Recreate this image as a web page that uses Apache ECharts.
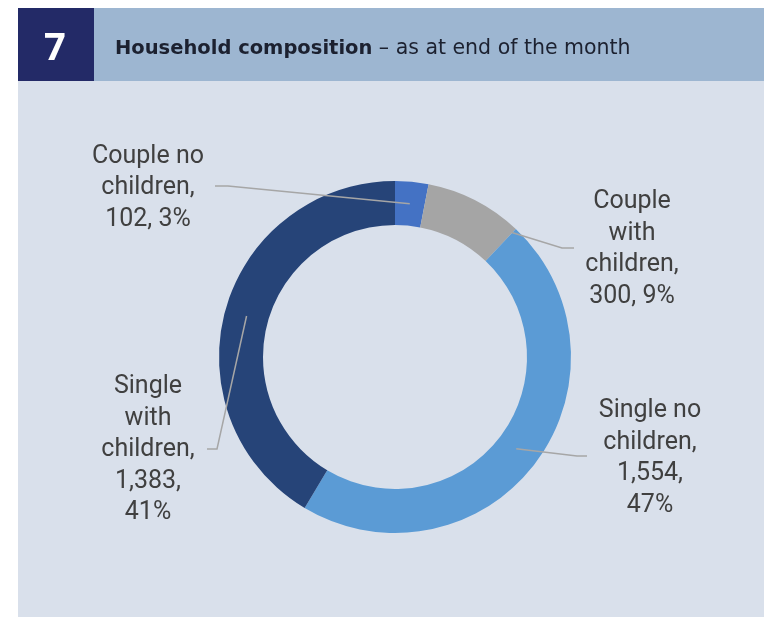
<!DOCTYPE html>
<html>
<head>
<meta charset="utf-8">
<script src="https://cdn.jsdelivr.net/npm/echarts@6/dist/echarts.min.js"></script>
<style>
  html, body { margin: 0; padding: 0; background: #ffffff; }
  #chart { width: 770px; height: 617px; }
</style>
</head>
<body>
<div id="chart"></div>
<script>
// data
var categories = ['Couple no\nchildren', 'Couple\nwith\nchildren', 'Single no\nchildren', 'Single\nwith\nchildren'];
var values = [102, 300, 1554, 1383];
var valueSep = [', ', ', ', ',\n', ',\n'];   // how value and percent are split in each label
var colors = ['#4472c4', '#a5a5a5', '#5b9bd5', '#264478'];

// layout of the labels and their leader lines
var cx = 395, cy = 357, rIn = 132, rOut = 176;
var labelPos = [[148, 188], [632, 249], [650, 458], [148, 450]];
var lineBends = [
  [[228, 186], [215, 186]],
  [[562, 248], [574, 248]],
  [[577, 456], [587, 456]],
  [[217, 449], [207, 449]]
];
var lineStartFrac = [0.5, 0.98, 0.5, 0.5]; // where in the slice the line starts
var lineStartR = [154, 170, 152, 154];

var total = values.reduce(function (a, b) { return a + b; }, 0);

// start point of a leader line, from the slice angles
function lineStart(i) {
  var before = 0;
  for (var k = 0; k < i; k++) before += values[k];
  var a = (before + values[i] * lineStartFrac[i]) / total * Math.PI * 2;
  return [cx + lineStartR[i] * Math.sin(a), cy - lineStartR[i] * Math.cos(a)];
}

var chart = echarts.init(document.getElementById('chart'));

var pieData = categories.map(function (c, i) {
  return { name: c, value: values[i], itemStyle: { color: colors[i] } };
});

var option = {
  animation: false,
  backgroundColor: '#ffffff',
  graphic: [
    { type: 'rect', shape: { x: 18, y: 8, width: 746, height: 609 }, style: { fill: '#d9e0eb' }, z: -10 },
    { type: 'rect', shape: { x: 18, y: 8, width: 746, height: 73 }, style: { fill: '#9db6d1' }, z: -9 },
    { type: 'rect', shape: { x: 18, y: 8, width: 76, height: 73 }, style: { fill: '#232a67' }, z: -8 },
    {
      type: 'text', left: 44, top: 30, z: 5,
      style: { text: '7', fill: '#ffffff', font: 'bold 38px "Open Sans", Roboto, sans-serif' }
    }
  ],
  title: {
    text: '{b|Household composition} – as at end of the month',
    left: 110,
    top: 33,
    textStyle: {
      fontFamily: '"DejaVu Sans", sans-serif',
      fontSize: 20.5,
      fontWeight: 'normal',
      color: '#1c2130',
      rich: {
        b: { fontFamily: '"DejaVu Sans", sans-serif', fontSize: 19.5, fontWeight: 'bold', color: '#1c2130' }
      }
    }
  },
  series: [
    {
      // the ring itself
      type: 'pie',
      center: [cx, cy],
      radius: [rIn, rOut],
      startAngle: 90,
      clockwise: true,
      silent: true,
      itemStyle: { borderWidth: 0 },
      label: { show: false },
      labelLine: { show: false },
      data: pieData
    },
    {
      // same slices, transparent, drawn on top so the leader lines sit above the ring
      type: 'pie',
      z: 5,
      center: [cx, cy],
      radius: [rIn, rOut],
      startAngle: 90,
      clockwise: true,
      silent: true,
      avoidLabelOverlap: false,
      itemStyle: { color: 'rgba(0,0,0,0)', borderWidth: 0 },
      data: categories.map(function (c, i) { return { name: c, value: values[i] }; }),
      label: {
        show: true,
        position: 'outside',
        fontFamily: 'Roboto, sans-serif',
        fontSize: 25,
        lineHeight: 31.5,
        color: '#404040',
        align: 'center',
        formatter: function (p) {
          return p.name + ',\n' + p.value.toLocaleString('en-US') + valueSep[p.dataIndex] + Math.round(p.percent) + '%';
        }
      },
      labelLine: {
        show: true,
        showAbove: true,
        lineStyle: { color: '#a6a6a6', width: 1.5 }
      },
      labelLayout: function (params) {
        var i = params.dataIndex;
        return {
          x: labelPos[i][0],
          y: labelPos[i][1],
          align: 'center',
          verticalAlign: 'middle',
          labelLinePoints: [lineStart(i), lineBends[i][0], lineBends[i][1]]
        };
      }
    }
  ]
};

chart.setOption(option);
</script>
</body>
</html>
